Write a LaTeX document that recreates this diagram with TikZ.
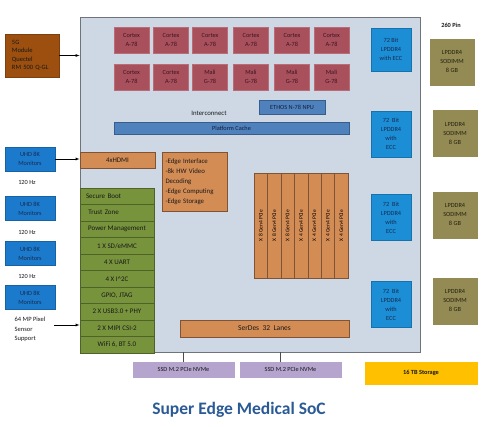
\documentclass[tikz,border=0pt]{standalone}
\usepackage{fontspec}
\setmainfont{Carlito}
\usepackage{tikz}
\usetikzlibrary{positioning}

\definecolor{socbg}{HTML}{CDD8E4}
\definecolor{socln}{HTML}{6F747C}
\definecolor{coref}{HTML}{A9505D}
\definecolor{corel}{HTML}{B96B76}
\definecolor{coret}{HTML}{3E1420}
\definecolor{cachef}{HTML}{4F81BD}
\definecolor{cachel}{HTML}{385D8A}
\definecolor{darkt}{HTML}{14203A}
\definecolor{memf}{HTML}{1B8ED6}
\definecolor{memt}{HTML}{172B50}
\definecolor{dimmf}{HTML}{948A54}
\definecolor{dimmt}{HTML}{23220F}
\definecolor{modf}{HTML}{9C4F0E}
\definecolor{uhdf}{HTML}{1C7ACC}
\definecolor{orf}{HTML}{D48C55}
\definecolor{orl}{HTML}{7F5436}
\definecolor{grf}{HTML}{77933C}
\definecolor{grl}{HTML}{4F6228}
\definecolor{ssdf}{HTML}{B4A4CE}
\definecolor{stof}{HTML}{FFC000}
\definecolor{titlec}{HTML}{2A5A96}

\newcommand\boxfont{\fontsize{6.3}{9}\selectfont}

\tikzset{
  box/.style={draw,inner sep=0pt,align=center,font=\boxfont},
  core/.style={box,fill=coref,draw=corel,text=coret,minimum width=35pt,minimum height=26pt},
  cache/.style={box,fill=cachef,draw=cachel,text=darkt},
  mem/.style={box,fill=memf,draw=memf!80!black,text=memt,minimum width=40pt,minimum height=46pt},
  dimm/.style={box,fill=dimmf,draw=dimmf,text=dimmt,minimum width=44pt,minimum height=46pt},
  uhd/.style={box,fill=uhdf,draw=uhdf!80!black,text=memt,minimum width=50pt,minimum height=24pt},
  orbox/.style={box,fill=orf,draw=orl,text=black!90},
  io/.style={box,fill=grf,draw=grl,text=black!90,minimum width=74pt,minimum height=16.5pt,font=\fontsize{7}{9}\selectfont},
  lane/.style={box,fill=orf,draw=orl,minimum width=13.43pt,minimum height=105pt,font=\fontsize{5.5}{7}\selectfont},
  ssd/.style={box,fill=ssdf,draw=ssdf,text=black!90,minimum width=101pt,minimum height=15pt},
  plain/.style={inner sep=0pt,font=\boxfont,text=black!90,align=left}
}

\begin{document}
\begin{tikzpicture}[x=1pt,y=-1pt]
\useasboundingbox (0,0) rectangle (485,427);

% SoC
\node[draw=socln,fill=socbg,line width=0.9pt,minimum width=340pt,minimum height=335pt,inner sep=0pt] (soc) at (250,184.5) {};

% cores
\foreach \x [count=\i] in {131.5,171,210,251,292,331.5}
  \node[core] (cpu\i) at (\x,40) {Cortex\\A-78};
\node[core] (cpu7) at (131.5,77) {Cortex\\A-78};
\node[core] (cpu8) at (171,77) {Cortex\\A-78};
\foreach \x [count=\i] in {210,251,292,331.5}
  \node[core] (gpu\i) at (\x,77) {Mali\\G-78};

\node[cache,minimum width=66pt,minimum height=14pt] (npu) at (292,107) {ETHOS N-78 NPU};
\node[plain,font=\fontsize{6.8}{9}\selectfont] (ic) at (209,113) {Interconnect};
\node[cache,minimum width=235pt,minimum height=12pt] (pc) at (231.5,128) {Platform Cache};

% memory
\node[mem,minimum height=43pt] (mem1) at (391,49.5) {72 Bit\\LPDDR4\\with ECC};
\node[mem] (mem2) at (391,134) {72\ \ Bit\\LPDDR4\\with\\ECC};
\node[mem] (mem3) at (391,217.5) {72\ \ Bit\\LPDDR4\\with\\ECC};
\node[mem] (mem4) at (391,304.5) {72\ \ Bit\\LPDDR4\\with\\ECC};

\node[plain,font=\boxfont\bfseries] (pin) at (451,25) {260 Pin};
\node[dimm] (dimm1) at (452,62) {LPDDR4\\SODIMM\\8 GB};
\node[dimm] (dimm2) at (455,133.5) {LPDDR4\\SODIMM\\8 GB};
\node[dimm] (dimm3) at (455,215) {LPDDR4\\SODIMM\\8 GB};
\node[dimm] (dimm4) at (455,301) {LPDDR4\\SODIMM\\8 GB};

% left side
\node[box,fill=modf,draw=modf!80!black,text=black!90,minimum width=54pt,minimum height=43pt,text width=40pt,align=left,font=\fontsize{6.5}{8.5}\selectfont] (mod5g) at (32,55.5) {5G\\Module\\Quectel\\RM 500 Q-GL};
\draw[-latex] (mod5g.east) -- (mod5g.east -| soc.west);

\node[uhd] (mon1) at (30,159) {UHD 8K\\Monitors};
\node[plain] (hz1) at (27,182) {120 Hz};
\node[uhd] (mon2) at (30,208.5) {UHD 8K\\Monitors};
\node[plain] (hz2) at (27,232) {120 Hz};
\node[uhd] (mon3) at (30,253.5) {UHD 8K\\Monitors};
\node[plain] (hz3) at (27,276) {120 Hz};
\node[uhd] (mon4) at (30,297.5) {UHD 8K\\Monitors};
\draw[-latex] (mon1.east) -- (mon1.east -| soc.west);

\node[plain,font=\fontsize{6.5}{9.5}\selectfont] (sens) at (30,329.5) {64 MP Pixel\\Sensor\\Support};
\coordinate (sensout) at (54,325);
\draw[-latex] (sensout) -- (sensout -| soc.west);

% I/O
\node[orbox,minimum width=75pt,minimum height=16pt,font=\fontsize{7}{9}\selectfont] (hdmi) at (117.5,160) {4xHDMI};
\node[orbox,minimum width=65pt,minimum height=59pt,text width=58pt,align=left,font=\fontsize{6.8}{10}\selectfont] (edge) at (194.5,181.5) {-Edge Interface\\-8k HW Video\\Decoding\\-Edge Computing\\-Edge Storage};

\node[io,text width=62pt,align=left] (io1) at (117,196.25) {Secure Boot};
\node[io,text width=62pt,align=left] (io2) at (117,212.75) {\ Trust Zone};
\node[io] (io3) at (117,229.25) {Power Management};
\node[io] (io4) at (117,245.75) {1 X SD/eMMC};
\node[io] (io5) at (117,262.25) {4 X UART};
\node[io] (io6) at (117,278.75) {4 X I\textasciicircum 2C};
\node[io] (io7) at (117,295.25) {GPIO, JTAG};
\node[io] (io8) at (117,311.75) {2 X USB3.0 + PHY};
\node[io] (io9) at (117,328.25) {2 X MIPI CSI-2};
\node[io] (io10) at (117,344.75) {WiFi 6, BT 5.0};

% PCIe lanes
\foreach \n [count=\i] in {8,8,8,4,4,4,4}
  \node[lane] (pcie\i) at ({254+13.43*(\i-0.5)},225.5) {\rotatebox{90}{X \n\ Gen4 PCIe}};

\node[orbox,minimum width=169pt,minimum height=17pt,font=\fontsize{7.5}{9}\selectfont] (serdes) at (264.5,328.5) {SerDes\ \ 32\ \ Lanes};

% storage
\node[ssd] (ssd1) at (183.5,369.5) {SSD M.2 PCIe NVMe};
\node[ssd] (ssd2) at (290.5,369.5) {SSD M.2 PCIe NVMe};
\draw[black!70] (ssd1.north) -- (ssd1.north |- soc.south);
\draw[black!70] ([xshift=-10pt]ssd2.north) -- ([xshift=-10pt]ssd2.north |- soc.south);
\node[box,fill=stof,draw=stof,text=black!90,font=\boxfont\bfseries,minimum width=112pt,minimum height=22pt] (sto) at (421,373) {16 TB Storage};

\node[font=\fontsize{17.5}{20}\selectfont\bfseries,text=titlec,inner sep=0pt] (title) at (239,410) {Super Edge Medical SoC};
\end{tikzpicture}
\end{document}
